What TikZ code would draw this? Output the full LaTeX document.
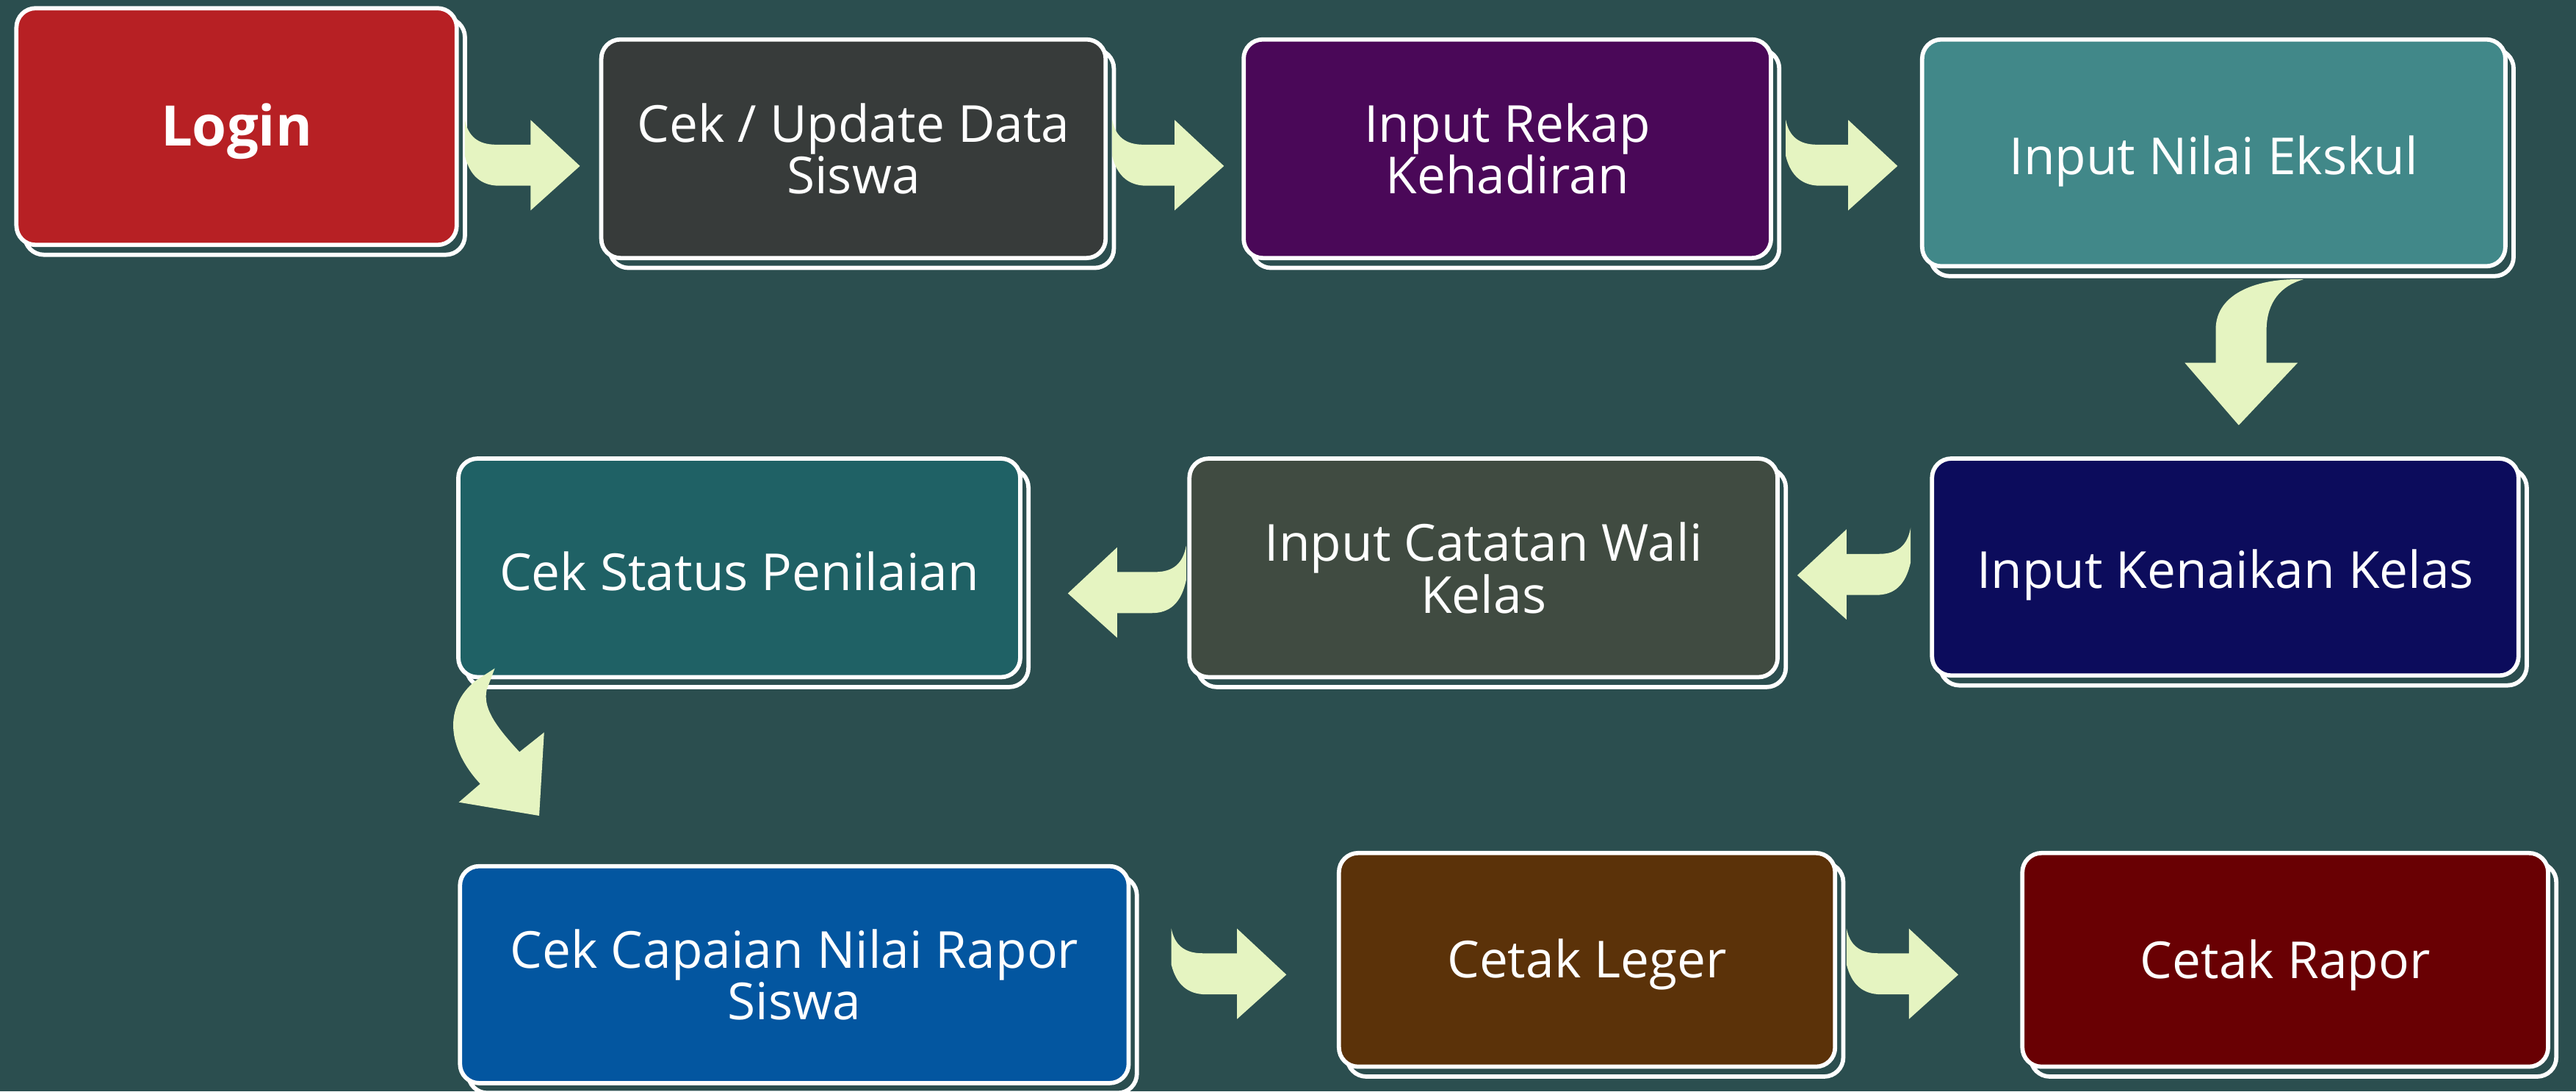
\documentclass[tikz,border=0pt]{standalone}
\usepackage{fontspec}
\setmainfont{Open Sans}
\definecolor{bgc}{HTML}{2B4E4F}
\definecolor{arrowc}{HTML}{E5F4C1}
\definecolor{cLogin}{HTML}{B72024}
\definecolor{cCek}{HTML}{373B3A}
\definecolor{cRekap}{HTML}{4A0858}
\definecolor{cEkskul}{HTML}{418889}
\definecolor{cNaik}{HTML}{0C0C5C}
\definecolor{cCatat}{HTML}{404B41}
\definecolor{cStatus}{HTML}{1F6165}
\definecolor{cCapai}{HTML}{0356A0}
\definecolor{cLeger}{HTML}{5B3209}
\definecolor{cRapor}{HTML}{690003}
\tikzset{
  backbox/.style={draw=white, line width=2.2pt, fill=bgc, rounded corners=0.35cm},
  frontbox/.style={rectangle, draw=white, line width=2.2pt, rounded corners=0.35cm,
    text=white, font=\fontsize{26.5}{27}\selectfont, align=center, inner sep=0pt},
  arrowshape/.style={fill=arrowc, draw=none}
}
\newcommand\lowtext[2]{\raisebox{-#1}[\height][\depth]{#2}}
\newcommand\flowbox[7]{%
  \draw[backbox] ({#2+5},{#3+6}) rectangle ({#4+5},{#5+6});
  \node[frontbox, fill=#6, minimum width={(#4-#2)*0.03cm}, minimum height={(#5-#3)*0.03cm}]
    (#1) at ({(#2+#4)/2},{(#3+#5)/2}) {#7};
}
\newcommand\rarrow[3]{%
  \fill[arrowshape] (#1,{#3-28}) .. controls ({#1+2},{#3-18}) and ({#1+8},{#3-13}) .. ({#1+19},{#3-13})
    -- ({#2-30},{#3-13}) -- ({#2-30},{#3-28}) -- (#2,#3) -- ({#2-30},{#3+27}) -- ({#2-30},{#3+12})
    -- ({#1+21},{#3+12}) .. controls ({#1+10},{#3+12}) and ({#1+3},{#3+6}) .. (#1,{#3-6}) -- cycle;
}
\newcommand\larrow[3]{%
  \fill[arrowshape] (#1,{#3-29}) .. controls ({#1-2},{#3-18}) and ({#1-8},{#3-13}) .. ({#1-19},{#3-13})
    -- ({#2+30},{#3-13}) -- ({#2+30},{#3-28}) -- (#2,#3) -- ({#2+30},{#3+27}) -- ({#2+30},{#3+12})
    -- ({#1-21},{#3+12}) .. controls ({#1-10},{#3+12}) and ({#1-3},{#3+6}) .. (#1,{#3-8}) -- cycle;
}
\begin{document}
\begin{tikzpicture}[x=0.03cm,y=-0.03cm]
\useasboundingbox (0,0) rectangle (1568,664);
\fill[bgc] (0,0) rectangle (1568,664);

\flowbox{login}{10}{5}{278}{149}{cLogin}{\lowtext{0.09cm}{\fontsize{29}{30}\selectfont\bfseries Login}}
\flowbox{cek}{366}{24}{673}{157}{cCek}{Cek / Update Data\\Siswa}
\flowbox{rekap}{757}{24}{1078}{157}{cRekap}{Input Rekap\\Kehadiran}
\flowbox{ekskul}{1170}{24}{1525}{162}{cEkskul}{\lowtext{0.15cm}{Input Nilai Ekskul}}
\flowbox{naik}{1176}{279}{1533}{411}{cNaik}{\lowtext{0.15cm}{Input Kenaikan Kelas}}
\flowbox{catat}{724}{279}{1082}{412}{cCatat}{Input Catatan Wali\\Kelas}
\flowbox{status}{279}{279}{621}{412}{cStatus}{\lowtext{0.06cm}{Cek Status Penilaian}}
\flowbox{capai}{280}{527}{687}{659}{cCapai}{Cek Capaian Nilai Rapor\\Siswa}
\flowbox{leger}{815}{519}{1117}{649}{cLeger}{\lowtext{0.08cm}{Cetak Leger}}
\flowbox{rapor}{1231}{519}{1551}{649}{cRapor}{\lowtext{0.1cm}{Cetak Rapor}}

% login -> cek, cek -> rekap, rekap -> ekskul
\rarrow{283}{353}{101}
\rarrow{677}{745}{101}
\rarrow{1087}{1155}{101}
% ekskul -> naik
\fill[arrowshape] (1402,170) .. controls (1375,169) and (1349,178) .. (1348.7,200)
  -- (1348.7,220.7) -- (1329.8,220.7) -- (1362.7,258.7) -- (1398.6,220.7) -- (1379.6,220.7)
  -- (1379.6,200) .. controls (1380,184) and (1388,174) .. (1402,170) -- cycle;
% naik -> catat, catat -> status
\larrow{1163}{1094}{350}
\larrow{722}{650}{361}
% status -> capai
\fill[arrowshape] (301.2,406.6) -- (289.3,414.3) .. controls (270,430) and (272,455) .. (292.3,476.9)
  -- (279.3,488.1) -- (328.2,496.3) -- (331.2,445.6) -- (316.2,457.5)
  .. controls (300,440) and (294,430) .. (296.3,419.5) -- cycle;
% capai -> leger, leger -> rapor
\rarrow{713}{783}{593}
\rarrow{1124}{1192}{593}
\end{tikzpicture}
\end{document}
